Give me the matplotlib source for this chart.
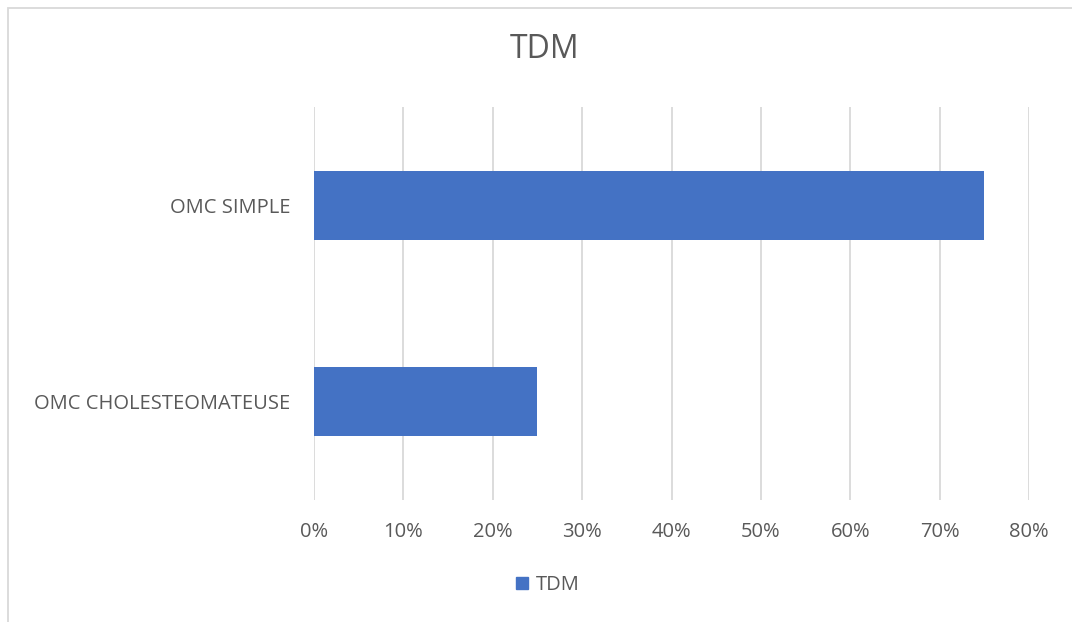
import matplotlib.pyplot as plt
from matplotlib.patches import Rectangle, Patch
from matplotlib.ticker import PercentFormatter

categories = ['OMC CHOLESTEOMATEUSE', 'OMC SIMPLE']
values = [25, 75]
series_name = 'TDM'
x_ticks = [0, 10, 20, 30, 40, 50, 60, 70, 80]

plt.rcParams['font.family'] = ['Open Sans', 'DejaVu Sans']
text_color = '#595959'
bar_color = '#4472C4'
grid_color = '#D9D9D9'

fig = plt.figure(figsize=(10.72, 6.22), dpi=100)
ax = fig.add_axes([314 / 1072, 1 - 500 / 622, (1029 - 314) / 1072, (500 - 107) / 622])

ax.barh(categories, values, height=0.35, color=bar_color, zorder=3)

ax.set_xlim(0, 80)
ax.set_ylim(-0.5, 1.5)
ax.set_xticks(x_ticks)
ax.xaxis.set_major_formatter(PercentFormatter(decimals=0))
ax.grid(axis='x', color=grid_color, linewidth=1.3, zorder=0)
ax.tick_params(axis='x', length=0, labelsize=14.5, colors=text_color, pad=16)
ax.tick_params(axis='y', length=0, labelsize=14.5, colors=text_color, pad=17)
for s in ax.spines.values():
    s.set_visible(False)

fig.text(545 / 1072, 1 - 50 / 622, 'TDM', ha='center', va='center',
         fontsize=23, color=text_color)

fig.legend(handles=[Patch(color=bar_color, label=series_name)],
           loc='center', bbox_to_anchor=(548 / 1072, 1 - 585 / 622),
           frameon=False, fontsize=14.5, labelcolor=text_color,
           handlelength=0.6, handleheight=0.6, handletextpad=0.4)

# chart border (only top and left edges visible in the crop)
fig.patches.append(Rectangle((8 / 1072, -0.1), 1.2, 1 - 8 / 622 + 0.1,
                             transform=fig.transFigure, fill=False,
                             edgecolor=grid_color, linewidth=1.3))

fig.savefig('out.png', dpi=100)
